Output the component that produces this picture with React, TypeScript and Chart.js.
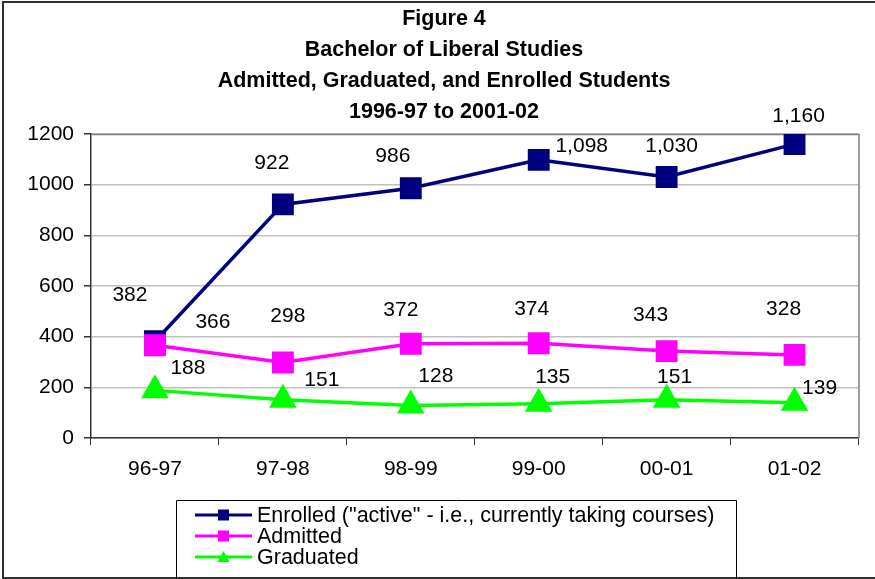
import React, { useEffect, useRef } from "react";
import { Chart, registerables } from "chart.js";

Chart.register(...registerables);

const categories = ["96-97", "97-98", "98-99", "99-00", "00-01", "01-02"];
const enrolled = [382, 922, 986, 1098, 1030, 1160];
const admitted = [366, 298, 372, 374, 343, 328];
const graduated = [188, 151, 128, 135, 151, 139];
const seriesNames = [
  'Enrolled ("active" - i.e., currently taking courses)',
  "Admitted",
  "Graduated",
];
const titleLines = [
  "Figure 4",
  "Bachelor of Liberal Studies",
  "Admitted, Graduated, and Enrolled Students",
  "1996-97 to 2001-02",
];
const yTicks = [0, 200, 400, 600, 800, 1000, 1200];

// label placement offsets (style, px) per series per point
const labelOffsets = [
  [[-25, -46], [-11, -41], [-18, -32], [43, -14], [5, -31], [4, -28]],
  [[58, -23], [5, -46], [-10, -34], [-7, -34], [-16, -36], [-11, -46]],
  [[33, -22], [39, -20], [25, -29], [14, -27], [8, -23], [25, -15]],
];

const FONT = "'Liberation Sans', Arial, sans-serif";

const fmt = (v: number) => v.toLocaleString("en-US");

const overlayPlugin = {
  id: "overlay",
  beforeDatasetsDraw(chart: any) {
    const { ctx, chartArea } = chart;
    ctx.save();
    ctx.strokeStyle = "#808080";
    ctx.lineWidth = 1.5;
    ctx.beginPath();
    ctx.moveTo(chartArea.left, chartArea.top + 0.5);
    ctx.lineTo(chartArea.right + 0.5, chartArea.top + 0.5);
    ctx.lineTo(chartArea.right + 0.5, chartArea.bottom);
    ctx.stroke();
    ctx.restore();
  },
  afterDatasetsDraw(chart: any) {
    const { ctx } = chart;
    ctx.save();
    ctx.font = `21px ${FONT}`;
    ctx.fillStyle = "#000";
    ctx.textAlign = "center";
    ctx.textBaseline = "middle";
    chart.data.datasets.forEach((ds: any, di: number) => {
      const meta = chart.getDatasetMeta(di);
      meta.data.forEach((pt: any, i: number) => {
        const off = labelOffsets[di][i];
        ctx.fillText(fmt(ds.data[i]), pt.x + off[0], pt.y + off[1]);
      });
    });
    ctx.restore();
  },
  afterDraw(chart: any) {
    const { ctx } = chart;
    ctx.save();
    // outer frame
    ctx.strokeStyle = "#303030";
    ctx.lineWidth = 2;
    ctx.beginPath();
    ctx.moveTo(880, 2);
    ctx.lineTo(3, 2);
    ctx.lineTo(3, 578);
    ctx.lineTo(880, 578);
    ctx.stroke();
    // title
    ctx.fillStyle = "#000";
    ctx.font = `bold 21.5px ${FONT}`;
    ctx.textAlign = "center";
    ctx.textBaseline = "middle";
    titleLines.forEach((t, i) => ctx.fillText(t, 444, 19 + i * 31));
    // legend
    ctx.strokeStyle = "#000";
    ctx.lineWidth = 1;
    ctx.beginPath();
    ctx.moveTo(176.5, 579);
    ctx.lineTo(176.5, 500.5);
    ctx.lineTo(736.5, 500.5);
    ctx.lineTo(736.5, 579);
    ctx.stroke();
    const rows = [515, 536, 557];
    chart.data.datasets.forEach((ds: any, di: number) => {
      const y = rows[di];
      ctx.strokeStyle = ds.borderColor;
      ctx.lineWidth = 3;
      ctx.beginPath();
      ctx.moveTo(195, y);
      ctx.lineTo(252, y);
      ctx.stroke();
      ctx.fillStyle = ds.pointBackgroundColor;
      if (ds.pointStyle === "rect") {
        ctx.fillRect(218, y - 5.5, 11, 11);
      } else {
        ctx.beginPath();
        ctx.moveTo(223.5, y - 6);
        ctx.lineTo(229.5, y + 5);
        ctx.lineTo(217.5, y + 5);
        ctx.closePath();
        ctx.fill();
      }
      ctx.fillStyle = "#000";
      ctx.font = `21.5px ${FONT}`;
      ctx.textAlign = "left";
      ctx.textBaseline = "middle";
      ctx.fillText(seriesNames[di], 257, y + 1);
    });
    ctx.restore();
  },
};

export default function App() {
  const ref = useRef<HTMLCanvasElement>(null);
  useEffect(() => {
    if (!ref.current) return;
    const chart = new Chart(ref.current, {
      type: "line",
      data: {
        labels: categories,
        datasets: [
          {
            label: seriesNames[0],
            data: enrolled,
            borderColor: "#000080",
            backgroundColor: "#000080",
            pointBackgroundColor: "#000080",
            pointBorderColor: "#000080",
            pointStyle: "rect",
            pointRadius: 13,
            borderWidth: 3.5,
            order: 3,
          },
          {
            label: seriesNames[1],
            data: admitted,
            borderColor: "#ff00ff",
            backgroundColor: "#ff00ff",
            pointBackgroundColor: "#ff00ff",
            pointBorderColor: "#ff00ff",
            pointStyle: "rect",
            pointRadius: 13,
            borderWidth: 3.5,
            order: 2,
          },
          {
            label: seriesNames[2],
            data: graduated,
            borderColor: "#00ff00",
            backgroundColor: "#00ff00",
            pointBackgroundColor: "#00ff00",
            pointBorderColor: "#00ff00",
            pointStyle: "triangle",
            pointRadius: 12.5,
            borderWidth: 3.5,
            order: 1,
          },
        ],
      },
      options: {
        animation: false,
        responsive: false,
        layout: { padding: { left: 11, right: 16, top: 134, bottom: 81 } },
        plugins: {
          legend: { display: false },
          title: { display: false },
          tooltip: { enabled: false },
        },
        scales: {
          x: {
            type: "category",
            offset: true,
            grid: {
              offset: true,
              drawOnChartArea: false,
              drawTicks: true,
              tickLength: 7,
              tickColor: "#333",
              lineWidth: 1,
            },
            border: { color: "#333", width: 1.5 },
            ticks: {
              color: "#000",
              font: { family: FONT, size: 21 },
              padding: 12,
              maxRotation: 0,
            },
            afterFit: (s: any) => {
              s.height = 60;
            },
          },
          y: {
            min: 0,
            max: 1200,
            afterBuildTicks: (s: any) => {
              s.ticks = yTicks.map((v) => ({ value: v }));
            },
            grid: {
              color: "#c0c0c0",
              lineWidth: 1.5,
              tickLength: 7,
              tickColor: "#333",
            },
            border: { color: "#333", width: 1.5 },
            ticks: {
              color: "#000",
              font: { family: FONT, size: 21 },
              padding: 10,
              callback: (v: any) => String(v),
            },
            afterFit: (s: any) => {
              s.width = 80;
            },
          },
        },
      },
      plugins: [overlayPlugin],
    });
    return () => chart.destroy();
  }, []);
  return (
    <div style={{ position: "absolute", left: 0, top: 0, width: 875, height: 579, background: "#fff" }}>
      <canvas ref={ref} width={875} height={579} style={{ display: "block" }} />
    </div>
  );
}
